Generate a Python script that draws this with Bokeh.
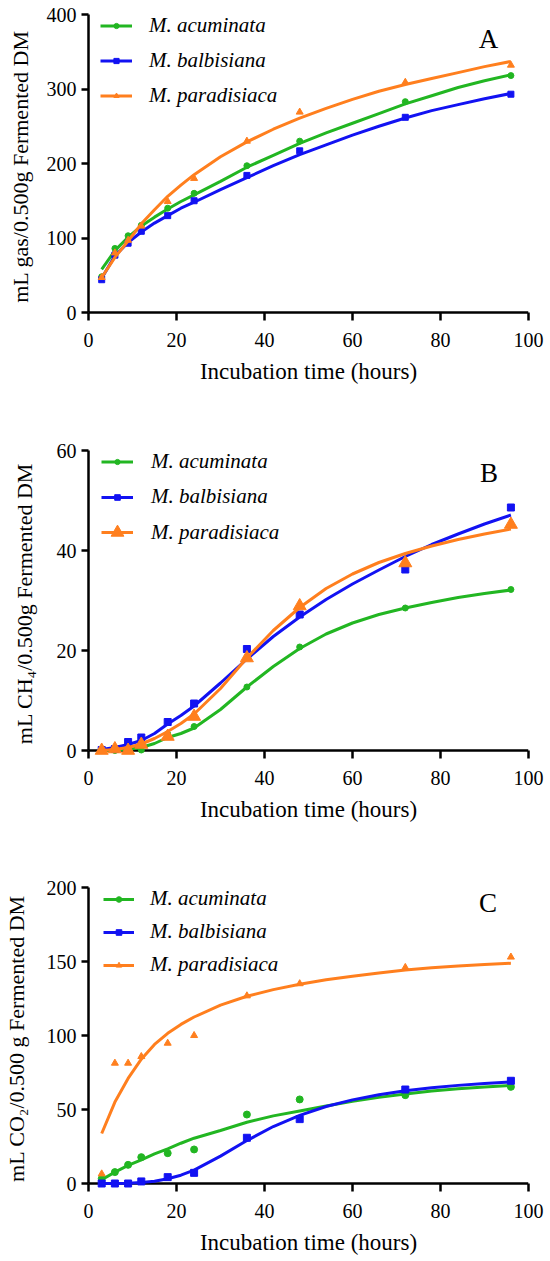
from bokeh.plotting import figure
from bokeh.layouts import column
from bokeh.models import Range1d, Legend, LegendItem, Label, FixedTicker, Span
from bokeh.embed import file_html
from bokeh.resources import INLINE

# ---------------- data ----------------
hours = [3, 6, 9, 12, 18, 24, 36, 48, 72, 96]
fit_hours = [3, 6, 9, 12, 15, 18, 21, 24, 30, 36, 42, 48, 54, 60, 66, 72, 78, 84, 90, 96]
species = ["M. acuminata", "M. balbisiana", "M. paradisiaca"]

# Panel A: total gas (mL / 0.500 g fermented DM)
gas_acu = [48, 86, 103, 117, 140, 160, 197, 230, 283, 318]
gas_bal = [44, 77, 93, 109, 130, 150, 184, 217, 262, 293]
gas_par = [47, 80, 97, 116, 149, 180, 230, 269, 309, 332]
gas_acu_fit = [58, 83, 101, 116, 128, 139, 149, 158, 176, 195, 211, 227, 241, 254, 267, 280, 291, 302, 311, 319]
gas_bal_fit = [46, 76, 94, 108, 120, 130, 140, 148, 165, 181, 197, 212, 225, 238, 250, 261, 271, 279, 287, 294]
gas_par_fit = [47, 74, 96, 119, 138, 156, 171, 185, 209, 229, 246, 261, 274, 286, 297, 306, 314, 322, 330, 337]

# Panel B: CH4
ch4_acu = [0, 0, 0, 0.1, 3.3, 4.8, 12.7, 20.7, 28.5, 32.2]
ch4_bal = [0.1, 0.3, 1.7, 2.6, 5.7, 9.4, 20.3, 27.2, 36.2, 48.6]
ch4_par = [0, 0.3, 0, 1.2, 2.8, 6.8, 18.5, 28.9, 37.5, 45.2]
ch4_acu_fit = [0, 0.05, 0.2, 0.6, 1.4, 2.6, 3.4, 4.5, 8.2, 12.7, 16.8, 20.4, 23.3, 25.5, 27.2, 28.5, 29.6, 30.6, 31.4, 32.1]
ch4_bal_fit = [0.2, 0.6, 1.2, 2.0, 3.4, 5.3, 7.0, 8.9, 13.5, 18.3, 22.8, 26.7, 30.2, 33.3, 36.1, 38.8, 41.2, 43.3, 45.3, 47.1]
ch4_par_fit = [0, 0.2, 0.6, 1.3, 2.4, 3.8, 5.4, 7.3, 12.4, 18.5, 24.0, 28.6, 32.4, 35.3, 37.6, 39.4, 40.9, 42.2, 43.3, 44.3]

# Panel C: CO2
co2_acu = [3.2, 7.7, 12.6, 17.8, 20.5, 23.0, 46.6, 56.8, 59.7, 65.3]
co2_bal = [0, 0, 0, 1.4, 4.3, 7.2, 30.9, 43.5, 63.5, 69.4]
co2_par = [6.5, 81.3, 81.3, 85.8, 94.8, 100.0, 126.8, 135.0, 146.0, 153.0]
co2_acu_fit = [2.5, 7.7, 12.2, 16.0, 20.0, 23.4, 27.2, 30.6, 35.8, 41.4, 45.7, 49.0, 52.3, 55.5, 58.2, 60.5, 62.5, 64.0, 65.2, 66.2]
co2_bal_fit = [0, 0, 0.1, 0.6, 1.5, 3.2, 5.6, 9.0, 18.5, 29.0, 38.5, 46.0, 52.0, 56.5, 60.0, 62.7, 64.7, 66.3, 67.6, 68.6]
co2_par_fit = [33.8, 55, 71, 84, 94, 101.5, 107.5, 112.5, 120.5, 126.5, 131, 134.6, 137.6, 140, 142.2, 144.2, 145.7, 147, 148, 148.8]

x_ticks = [0, 20, 40, 60, 80, 100]
gas_ticks = [0, 100, 200, 300, 400]
ch4_ticks = [0, 20, 40, 60]
co2_ticks = [0, 50, 100, 150, 200]

# ---------------- style ----------------
FONT = "Liberation Serif"
COLORS = ["#22B622", "#1212F2", "#FF7F1E"]
MARKERS = ["circle", "square", "triangle"]
FIG_W = 550
PAD = 6  # px of frame kept below the zero line so markers at 0 are not clipped


def panel(fig_top, fig_h, b_left, b_right, frame_top, axis_y, y_max, y_ticks, y_label,
          letter, letter_xy, pts, fits, sizes, leg_centers, leg_vx, leg_gw, leg_gh,
          leg_standoff, ylab_standoff):
    frame_bottom = axis_y + PAD
    y_min = -PAD * y_max / (axis_y - frame_top)
    p = figure(width=FIG_W, height=fig_h, x_range=Range1d(0, 100), y_range=Range1d(y_min, y_max),
               output_backend="svg", toolbar_location=None,
               min_border_left=b_left, min_border_right=b_right,
               min_border_top=frame_top - fig_top,
               min_border_bottom=fig_top + fig_h - frame_bottom)
    p.outline_line_color = None
    p.grid.visible = False
    p.background_fill_color = "white"
    p.border_fill_color = "white"

    for axes in (p.xaxis, p.yaxis):
        axes.axis_line_width = 2.5
        axes.axis_line_color = "black"
        axes.major_tick_line_width = 2.5
        axes.major_tick_line_color = "black"
        axes.minor_tick_line_color = None
        axes.major_label_text_font = FONT
        axes.major_label_text_font_size = "20px"
        axes.major_label_text_color = "black"
        axes.axis_label_text_font = FONT
        axes.axis_label_text_font_style = "normal"
        axes.axis_label_text_color = "black"
    p.xaxis.axis_label_text_font_size = "23px"
    p.yaxis.axis_label_text_font_size = "22px"

    # y axis: line stops at zero
    p.yaxis.major_tick_out = 7
    p.yaxis.major_tick_in = 0
    p.yaxis.bounds = (0, y_max)
    # x axis: the frame extends PAD px below zero; the visible axis line is a Span at 0
    p.xaxis.axis_line_color = None
    p.xaxis.major_tick_in = PAD
    p.xaxis.major_tick_out = 2
    p.add_layout(Span(location=0, dimension="width", line_color="black", line_width=2.5,
                      level="underlay"))

    p.xaxis.ticker = FixedTicker(ticks=x_ticks)
    p.yaxis.ticker = FixedTicker(ticks=y_ticks)
    p.xaxis.axis_label = "Incubation time (hours)"
    p.yaxis.axis_label = y_label
    p.xaxis.major_label_standoff = 12
    p.xaxis.axis_label_standoff = 9
    p.yaxis.major_label_standoff = 5
    p.yaxis.axis_label_standoff = ylab_standoff

    for i in range(3):
        lr = p.line(fit_hours, fits[i], line_color=COLORS[i], line_width=3)
        sr = p.scatter(hours, pts[i], marker=MARKERS[i], size=sizes[i],
                       fill_color=COLORS[i], line_color=COLORS[i])
        gh = leg_gh[i]
        h = max(gh, 24)
        vy = int(round(frame_bottom - (leg_centers[i] + h / 2)))
        leg = Legend(items=[LegendItem(label=species[i], renderers=[lr, sr])],
                     location=(leg_vx, vy), glyph_width=leg_gw, glyph_height=gh,
                     label_height=24, label_standoff=leg_standoff, padding=0, margin=0,
                     spacing=0, border_line_color=None, background_fill_alpha=0,
                     label_text_font=FONT, label_text_font_style="italic",
                     label_text_font_size="21px", label_text_color="black")
        p.add_layout(leg)

    p.add_layout(Label(x=letter_xy[0], y=letter_xy[1], text=letter, text_font=FONT,
                       text_font_size="27px", text_align="center", text_baseline="middle",
                       text_color="black"))
    return p


pA = panel(0, 430, 83, 20, 14, 312, 400, gas_ticks, "mL gas/0.500g Fermented DM",
           "A", (90.9, 366.5),
           [gas_acu, gas_bal, gas_par], [gas_acu_fit, gas_bal_fit, gas_par_fit], [6, 6, 7],
           [26, 61, 96], 12, 32, [13, 13, 13], 17, 11)

pB = panel(430, 430, 79, 22, 450, 750, 60, ch4_ticks, "mL CH\u2084/0.500g Fermented DM",
           "B", (91, 55.5),
           [ch4_acu, ch4_bal, ch4_par], [ch4_acu_fit, ch4_bal_fit, ch4_par_fit], [6, 7, 13],
           [462, 497, 532], 13, 32, [13, 14, 32], 18, 17)

pC = panel(860, 401, 87, 21, 887, 1183, 200, co2_ticks, "mL CO\u2082/0.500 g Fermented DM",
           "C", (90.8, 189.2),
           [co2_acu, co2_bal, co2_par], [co2_acu_fit, co2_bal_fit, co2_par_fit], [7, 7, 7],
           [899, 932, 965], 15, 31, [14, 14, 14], 16, 15)

layout = column(pA, pB, pC)
open("out.html", "w").write(file_html(layout, INLINE))
